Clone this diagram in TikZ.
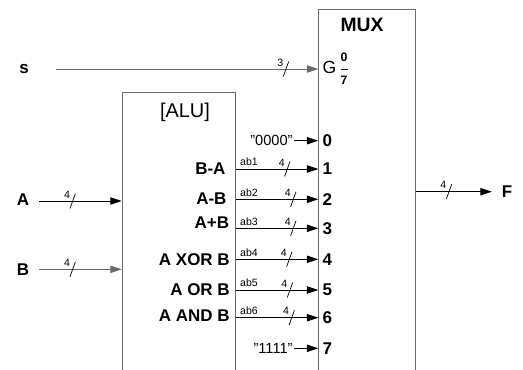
\documentclass[tikz,border=0pt]{standalone}
\usepackage{fontspec}
\setmainfont{Liberation Sans}
\usetikzlibrary{arrows.meta}

\tikzset{
  lbl/.style={font=\fontsize{14.5}{16}\selectfont\bfseries, inner sep=0pt},
  buslbl/.style={font=\fontsize{9}{10}\selectfont, inner sep=0pt},
  sig/.style={line width=0.75pt, -{Triangle[length=0.34cm,width=0.22cm]}},
  blk/.style={draw=gray!85!black, line width=0.85pt, rectangle},
}
% bus width mark: x, y, width
\newcommand{\busmark}[3]{%
  \draw[line width=0.6pt] ({#1-2.7},{#2+7.5}) -- ({#1+2.7},{#2-7.5});
  \node[buslbl] at ({#1-5.6},{#2-6.5}) {#3};}

\begin{document}
\begin{tikzpicture}[x=0.03cm,y=-0.03cm]
  \useasboundingbox (0,0) rectangle (523,370);
  % blocks
  \node[blk, anchor=north west, minimum width=2.9cm, minimum height=11.3cm] (mux) at (318.3,9.3) {};
  \node[blk, anchor=north west, minimum width=3.408cm, minimum height=8.8cm] (alu) at (121.7,92.3) {};
  \node[font=\fontsize{16.5}{18}\selectfont\bfseries] (muxname) at (362,25) {MUX};
  \node[font=\fontsize{17}{19}\selectfont] (aluname) at (185,112) {[ALU]};
  % select input
  \node[lbl] (s) at (24,69) {s};
  \coordinate (s0) at (56,69);
  \node[anchor=west, inner sep=0pt, font=\fontsize{15}{16}\selectfont] (G) at (322.5,69)
    {G\kern2.5pt$\displaystyle\frac{\mbox{\fontsize{10.5}{11}\selectfont\bfseries 0}}{\mbox{\fontsize{10.5}{11}\selectfont\bfseries 7}}$};
  \draw[sig, draw=gray!85!black] (s0) -- (s0 -| mux.west);
  \busmark{286}{69}{3}
  % data inputs of the mux
  \foreach \n/\y in {0/140.7,1/169,2/199.3,3/228.3,4/259.3,5/290,6/317.7,7/348.3}
    \node[lbl, anchor=west] (p\n) at (322.5,\y) {\n};
  \node[anchor=east, inner sep=1pt, font=\fontsize{12.5}{14}\selectfont] (c0) at (294,140.7) {"0000"};
  \node[anchor=east, inner sep=1pt, font=\fontsize{12.5}{14}\selectfont] (c7) at (294,348.3) {"1111"};
  \draw[sig] (c0.east) -- (p0.west -| mux.west);
  \draw[sig] (c7.east) -- (p7.west -| mux.west);
  % alu outputs
  \foreach \n/\txt/\ty/\ex/\py/\sx in {1/B-A/168.3/225.7/169/287.3,
      2/A-B/199/226.7/199.3/293.3, 3/A+B/222.7/229.3/228.3/293.3,
      4/A XOR B/259.3/230/259.3/289.3, 5/A OR B/290/230/290/290,
      6/A AND B/316/230/317.7/291.7}{
    \node[lbl, anchor=east] (o\n) at (\ex,\ty) {\txt};
    \draw[sig] (alu.east |- p\n) -- (p\n -| mux.west);
    \node[buslbl] (ab\n) at (249,{\py-7}) {ab\n};
    \busmark{\sx}{\py}{4}
  }
  % alu inputs
  \node[lbl] (A) at (23,200) {A};
  \coordinate (a0) at (39,201);
  \draw[sig] (a0) -- (a0 -| alu.west);
  \busmark{72.7}{201}{4}
  \node[lbl] (B) at (23,269.3) {B};
  \coordinate (b0) at (39,269.3);
  \draw[sig, draw=gray!85!black] (b0) -- (b0 -| alu.west);
  \busmark{72.7}{269.3}{4}
  % output
  \node[lbl, anchor=west] (F) at (501.7,191.7) {F};
  \draw[sig, shorten >=0.3cm] (mux.east |- F) -- (F.west);
  \busmark{449}{191.7}{4}
\end{tikzpicture}
\end{document}
